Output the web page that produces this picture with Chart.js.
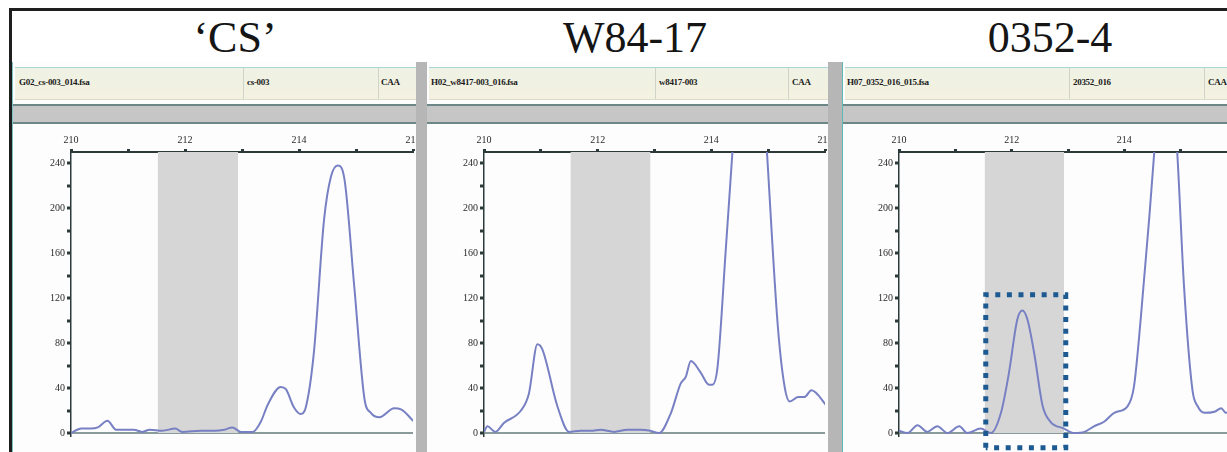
<!DOCTYPE html>
<html>
<head>
<meta charset="utf-8">
<script src="https://cdn.jsdelivr.net/npm/chart.js@4.4.1/dist/chart.umd.min.js"></script>
<style>
body{margin:0;width:1227px;height:452px;overflow:hidden;background:#fff;position:relative;font-family:"Liberation Serif",serif}
.frameTop{position:absolute;left:9px;top:8px;width:1218px;height:3px;background:#1e1e1e}
.frameLeft{position:absolute;left:9px;top:8px;width:3px;height:444px;background:#1e1e1e}
.title{position:absolute;top:16px;font-size:44px;line-height:44px;color:#151515;transform:translateX(-50%);white-space:nowrap}
.sep{position:absolute;top:62px;height:390px;background:#b6b6b6}
.panel{position:absolute;top:62px;height:390px;overflow:hidden;background:#fdfdfd}
.hdr{position:absolute;top:5px;height:31px;left:2px;right:0;background:linear-gradient(#eef2e4,#f4f1e0);border-top:1px solid #a9d6d6;border-bottom:1px solid #dcdccc}
.hdr span{position:absolute;top:9px;font-weight:bold;font-size:9px;letter-spacing:-0.3px;color:#1a1a1a;white-space:nowrap}
.hdr i{position:absolute;top:0;width:1px;height:31px;background:#d0d4c8}
.band{position:absolute;top:42px;height:16px;left:0;right:0;background:#c6c6c6;border-top:2px solid #6d8686;border-bottom:2px solid #6d8686}
canvas{position:absolute;top:62px;left:0}
</style>
</head>
<body>
<div class="frameTop"></div>
<div class="frameLeft"></div>
<div class="title" style="left:235px">‘CS’</div>
<div class="title" style="left:635px">W84-17</div>
<div class="title" style="left:1050px">0352-4</div>

<div class="sep" style="left:415px;width:12px"></div>
<div class="sep" style="left:828px;width:14px"></div>

<div class="panel" style="left:12px;width:403px;border-left:1px solid #7cc4c4">
  <div class="hdr"><span style="left:4px">G02_cs-003_014.fsa</span><i style="left:228px"></i><span style="left:232px">cs-003</span><i style="left:363px"></i><span style="left:366px">CAA</span></div>
  <div class="band"></div>
  <canvas id="c1"></canvas>
</div>
<div class="panel" style="left:427px;width:401px">
  <div class="hdr"><span style="left:2px">H02_w8417-003_016.fsa</span><i style="left:226px"></i><span style="left:230px">w8417-003</span><i style="left:359px"></i><span style="left:363px">CAA</span></div>
  <div class="band"></div>
  <canvas id="c2"></canvas>
</div>
<div class="panel" style="left:842px;width:385px;border-left:1px solid #5fb8b8">
  <div class="hdr"><span style="left:2px">H07_0352_016_015.fsa</span><i style="left:224px"></i><span style="left:228px">20352_016</span><i style="left:359px"></i><span style="left:363px">CAA</span></div>
  <div class="band"></div>
  <canvas id="c3"></canvas>
</div>

<script>
// axis ticks
const xTicks = [210, 211, 212, 213, 214, 215, 216]
const xTickLabels = [210, 212, 214, 216]
const yTicks = [0, 20, 40, 60, 80, 100, 120, 140, 160, 180, 200, 220, 240]
const yTickLabels = [0, 40, 80, 120, 160, 200, 240]

// grey bin and the dotted box (0352-4 only)
const binRange = [211.52, 212.93]
const boxX = [211.54, 212.96]
const boxY = [-13, 123]

// 'CS'
const csX = [210.0, 210.18, 210.35, 210.47, 210.64, 210.79, 211.1, 211.25, 211.38, 211.6, 211.83, 211.95, 212.28, 212.52, 212.69, 212.83, 212.98, 213.19, 213.33, 213.45, 213.68, 213.77, 213.91, 214.03, 214.12, 214.26, 214.44, 214.56, 214.68, 214.8, 214.97, 215.15, 215.26, 215.41, 215.67, 215.79, 216.02]
const csY = [0, 4, 4, 5, 11, 3, 3, 1, 3, 2, 4, 1, 2, 2, 3, 5, 1, 1, 10, 25, 41, 39, 23, 17, 23, 71, 190, 228, 238, 225, 130, 30, 18, 14, 22, 21, 10]

// W84-17
const w84X = [210.0, 210.06, 210.2, 210.35, 210.65, 210.79, 210.94, 211.03, 211.29, 211.5, 211.7, 211.88, 212.05, 212.29, 212.52, 212.76, 212.93, 213.08, 213.29, 213.46, 213.55, 213.64, 213.81, 213.96, 214.02, 214.11, 214.25, 214.37, 214.6, 214.8, 214.98, 215.17, 215.29, 215.38, 215.53, 215.64, 215.76, 216.05]
const w84Y = [1, 6, 1, 9, 20, 35, 79, 74, 24, 1, 2, 2, 3, 1, 3, 3, 2, 0, 18, 44, 50, 64, 54, 43, 43, 59, 160, 249, 420, 400, 249, 95, 41, 28, 32, 32, 38, 23]

// 0352-4
const l0352X = [210.0, 210.15, 210.33, 210.5, 210.68, 210.86, 211.07, 211.21, 211.45, 211.63, 211.81, 211.95, 212.1, 212.19, 212.28, 212.4, 212.55, 212.69, 212.93, 213.11, 213.29, 213.46, 213.64, 213.82, 214.06, 214.17, 214.29, 214.44, 214.53, 214.72, 214.94, 215.06, 215.21, 215.3, 215.42, 215.6, 215.72, 215.8, 216.0]
const l0352Y = [2, 0, 7, 1, 6, 0, 6, 0, 4, 0, 18, 53, 101, 109, 101, 71, 24, 10, 4, 0, 1, 6, 10, 18, 24, 41, 101, 190, 249, 400, 249, 130, 38, 24, 18, 19, 22, 18, 20]

Chart.defaults.font.family = '"Liberation Serif", serif'

const axisDark = '#2c3a3a'

function drawPanel(id, xs, ys, axisLeft, chartRight, withBox) {
  const canvas = document.getElementById(id)
  canvas.width = chartRight + 12
  canvas.height = 328

  const datasets = [{
    data: xs.map((x, i) => ({x: x, y: ys[i]})),
    borderColor: '#7880c4',
    borderWidth: 2,
    pointRadius: 0,
    cubicInterpolationMode: 'monotone',
    fill: false,
    order: 1
  }, {
    // grey bin
    data: [{x: binRange[0], y: 250}, {x: binRange[1], y: 250}],
    backgroundColor: '#d6d6d6',
    borderWidth: 0,
    pointRadius: 0,
    fill: 'origin',
    order: 2
  }]

  if (withBox) {
    datasets.push({
      data: [{x: boxX[0], y: boxY[0]}, {x: boxX[0], y: boxY[1]}, {x: boxX[1], y: boxY[1]},
             {x: boxX[1], y: boxY[0]}, {x: boxX[0], y: boxY[0]}],
      borderColor: '#1d5a92',
      borderWidth: 5,
      borderDash: [5, 6.6],
      pointRadius: 0,
      tension: 0,
      fill: false,
      clip: false,
      order: 0
    })
  }

  new Chart(canvas, {
    type: 'line',
    data: {datasets: datasets},
    options: {
      responsive: false,
      animation: false,
      events: [],
      layout: {padding: {left: 0, right: 12, top: 0, bottom: 15.6}},
      plugins: {legend: {display: false}, tooltip: {enabled: false}},
      scales: {
        x: {
          type: 'linear', position: 'top', min: 210, max: 216,
          afterBuildTicks: s => { s.ticks = xTicks.map(v => ({value: v})) },
          afterFit: s => { s.height = 28 },
          ticks: {
            callback: v => xTickLabels.includes(v) ? String(v) : '',
            font: {size: 10}, color: '#2a2a2a', padding: 3,
            maxRotation: 0, autoSkip: false
          },
          grid: {drawOnChartArea: false, tickLength: 3, tickWidth: 3, color: axisDark},
          border: {color: axisDark, width: 2}
        },
        y: {
          min: -3, max: 250,
          afterBuildTicks: s => { s.ticks = yTicks.map(v => ({value: v})) },
          afterFit: s => { s.width = axisLeft },
          ticks: {
            callback: v => yTickLabels.includes(v) ? String(v) : '',
            font: {size: 10}, color: '#2a2a2a', padding: 2, autoSkip: false
          },
          grid: {
            drawOnChartArea: true,
            color: ctx => (ctx.tick && ctx.tick.value === 0) ? '#8a9b9b' : 'rgba(0,0,0,0)',
            lineWidth: ctx => (ctx.tick && ctx.tick.value === 0) ? 2 : 0,
            tickColor: axisDark, tickLength: 4, tickWidth: 3
          },
          border: {color: axisDark, width: 1.5}
        }
      }
    }
  })
}

drawPanel('c1', csX, csY, 58, 400, false)
drawPanel('c2', w84X, w84Y, 57, 398, false)
drawPanel('c3', l0352X, l0352Y, 56, 394, true)
</script>
</body>
</html>
